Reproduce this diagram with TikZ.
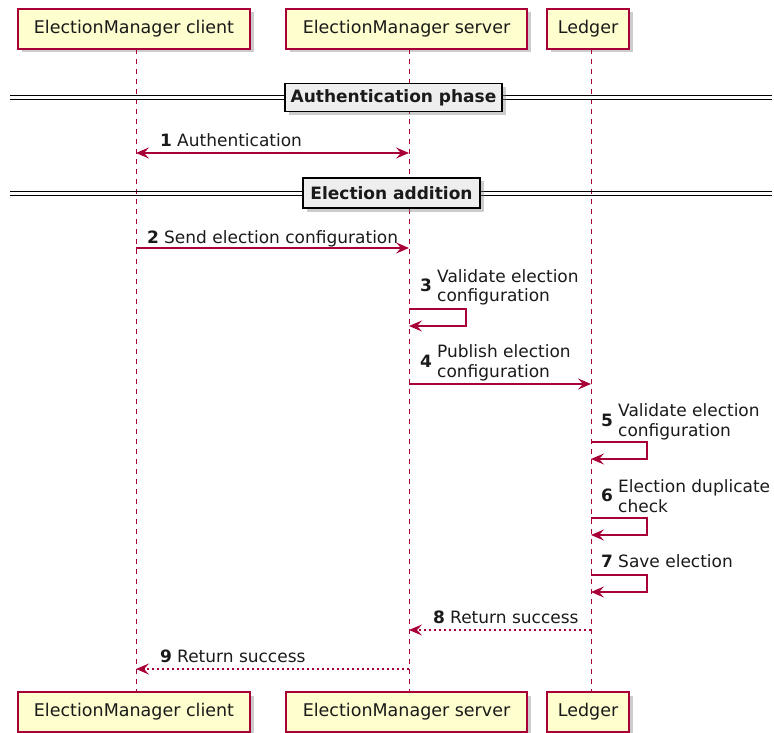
\documentclass[tikz,border=0pt]{standalone}
\usepackage{fontspec}
\setmainfont{DejaVu Sans}
\usetikzlibrary{arrows.meta,shadows}
\definecolor{plum}{HTML}{A80036}
\definecolor{partfill}{HTML}{FEFECE}
\definecolor{divfill}{HTML}{EEEEEE}
\definecolor{ink}{HTML}{1A1A1A}
\tikzset{
  x=1pt, y=-1pt,
  participant/.style={draw=plum, line width=1.2pt, fill=partfill, minimum height=40pt,
    inner sep=0pt, text=ink, font=\fontsize{17.5}{20}\selectfont,
    drop shadow={shadow xshift=3.5pt, shadow yshift=-3.5pt, opacity=0.4}},
  lifeline/.style={draw=plum, line width=0.9pt, dash pattern=on 5pt off 5pt},
  tip/.style={Stealth[length=13pt,width=11pt,inset=5pt]},
  msg/.style={draw=plum, line width=1.1pt, -{Stealth[length=13pt,width=11pt,inset=5pt]}},
  bimsg/.style={msg, {Stealth[length=13pt,width=11pt,inset=5pt]}-{Stealth[length=13pt,width=11pt,inset=5pt]}},
  retmsg/.style={msg, dash pattern=on 2.5pt off 2.5pt},
  lbl/.style={anchor=base west, inner sep=0pt, text=ink, font=\fontsize{17}{20}\selectfont, align=left},
  num/.style={anchor=base west, inner sep=0pt, text=ink, font=\fontsize{17}{20}\selectfont\bfseries},
  divbox/.style={draw=black, line width=1.5pt, fill=divfill, minimum height=28pt, inner sep=0pt,
    text=ink, font=\fontsize{17}{20}\selectfont\bfseries,
    drop shadow={shadow xshift=3.5pt, shadow yshift=-3.5pt, opacity=0.4}},
  divline/.style={draw=black, line width=1.1pt}
}
\begin{document}
\begin{tikzpicture}
\useasboundingbox (0,0) rectangle (774,733);

% participants, top and bottom
\node[participant, minimum width=232pt] (cTop) at (134,29) {ElectionManager client};
\node[participant, minimum width=241pt] (sTop) at (406.5,29) {ElectionManager server};
\node[participant, minimum width=82pt] (lTop) at (588,29) {Ledger};
\node[participant, minimum width=232pt] (cBot) at (134,712) {ElectionManager client};
\node[participant, minimum width=241pt] (sBot) at (406.5,712) {ElectionManager server};
\node[participant, minimum width=82pt] (lBot) at (588,712) {Ledger};

% lifelines
\coordinate (cA) at (136,49);  \coordinate (cB) at (136,692);
\coordinate (sA) at (409,49);  \coordinate (sB) at (409,692);
\coordinate (lA) at (591,49);  \coordinate (lB) at (591,692);
\draw[lifeline] (cA) -- (cB);
\draw[lifeline] (sA) -- (sB);
\draw[lifeline] (lA) -- (lB);

% divider: Authentication phase
\coordinate (d1a) at (10,95.5);  \coordinate (d1b) at (772,95.5);
\coordinate (d1c) at (10,99.5);  \coordinate (d1d) at (772,99.5);
\draw[divline] (d1a) -- (d1b);
\draw[divline] (d1c) -- (d1d);
\node[divbox, minimum width=217pt] (div1) at (393.5,97.5) {Authentication phase};

% 1 Authentication
\coordinate (m1c) at (136,153); \coordinate (m1s) at (409,153);
\draw[bimsg] (m1c) -- (m1s);
\node[num] (n1) at (160,147) {1};
\node[lbl] (t1) at (177,147) {Authentication};

% divider: Election addition
\coordinate (d2a) at (10,191.5);  \coordinate (d2b) at (772,191.5);
\coordinate (d2c) at (10,195.5);  \coordinate (d2d) at (772,195.5);
\draw[divline] (d2a) -- (d2b);
\draw[divline] (d2c) -- (d2d);
\node[divbox, minimum width=177pt, minimum height=30pt] (div2) at (391.5,193) {Election addition};

% 2 Send election configuration
\coordinate (m2c) at (136,248); \coordinate (m2s) at (409,248);
\draw[msg] (m2c) -- (m2s);
\node[num] (n2) at (147,243) {2};
\node[lbl] (t2) at (164,243) {Send election configuration};

% 3 Validate election configuration (server self call)
\coordinate (m3a) at (409,309); \coordinate (m3b) at (409,326);
\draw[msg] (m3a) -- ++(57,0) -- ++(0,17) -- (m3b);
\node[num] (n3) at (420,291) {3};
\node[lbl] (t3a) at (437,282) {Validate election};
\node[lbl] (t3b) at (437,301) {configuration};

% 4 Publish election configuration
\coordinate (m4s) at (409,384); \coordinate (m4l) at (591,384);
\draw[msg] (m4s) -- (m4l);
\node[num] (n4) at (420,367) {4};
\node[lbl] (t4a) at (437,357) {Publish election};
\node[lbl] (t4b) at (437,377) {configuration};

% 5 Validate election configuration (ledger self call)
\coordinate (m5a) at (591,442); \coordinate (m5b) at (591,459);
\draw[msg] (m5a) -- ++(56,0) -- ++(0,17) -- (m5b);
\node[num] (n5) at (601,426) {5};
\node[lbl] (t5a) at (618,416) {Validate election};
\node[lbl] (t5b) at (618,436) {configuration};

% 6 Election duplicate check
\coordinate (m6a) at (591,518); \coordinate (m6b) at (591,535);
\draw[msg] (m6a) -- ++(56,0) -- ++(0,17) -- (m6b);
\node[num] (n6) at (601,501) {6};
\node[lbl] (t6a) at (618,492) {Election duplicate};
\node[lbl] (t6b) at (618,512) {check};

% 7 Save election
\coordinate (m7a) at (591,575); \coordinate (m7b) at (591,592);
\draw[msg] (m7a) -- ++(56,0) -- ++(0,17) -- (m7b);
\node[num] (n7) at (601,567) {7};
\node[lbl] (t7) at (618,567) {Save election};

% 8 Return success
\coordinate (m8l) at (591,630); \coordinate (m8s) at (409,630);
\draw[retmsg] (m8l) -- (m8s);
\node[num] (n8) at (433,623) {8};
\node[lbl] (t8) at (450,623) {Return success};

% 9 Return success
\coordinate (m9s) at (409,669); \coordinate (m9c) at (136,669);
\draw[retmsg] (m9s) -- (m9c);
\node[num] (n9) at (160,662) {9};
\node[lbl] (t9) at (177,662) {Return success};
\end{tikzpicture}
\end{document}
